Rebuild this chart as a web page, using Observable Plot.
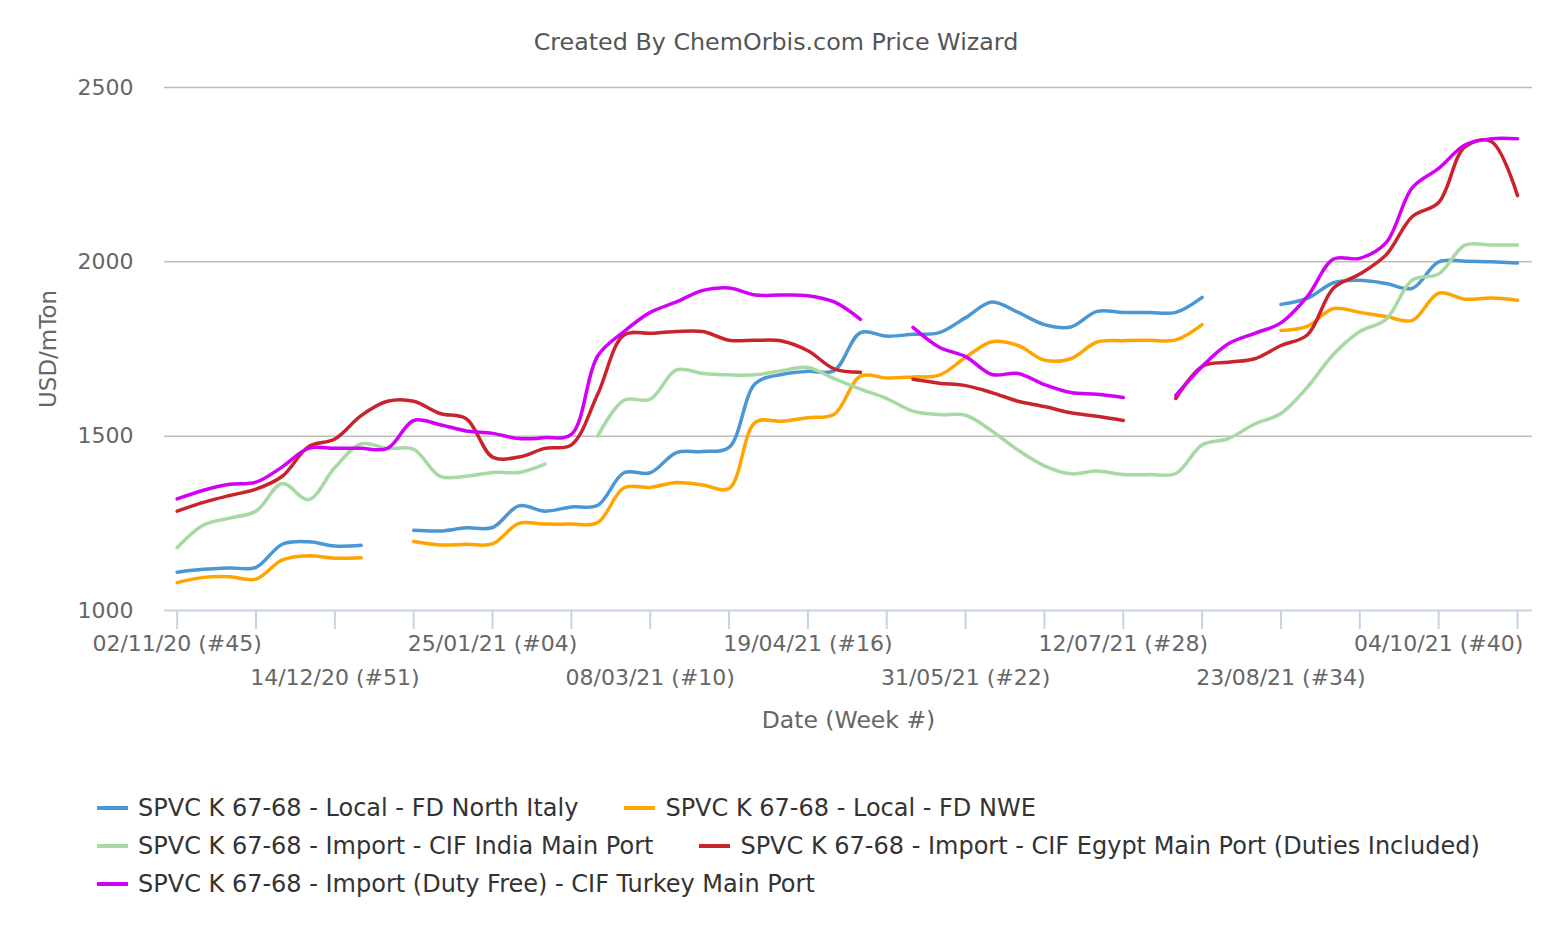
<!DOCTYPE html>
<html><head><meta charset="utf-8">
<script src="https://cdn.jsdelivr.net/npm/d3@7"></script>
<script src="https://cdn.jsdelivr.net/npm/@observablehq/plot@0.6"></script>
<style>
body{margin:0;background:#fff;font-family:"DejaVu Sans",sans-serif;}
#title{height:70px;box-sizing:border-box;padding-top:28px;line-height:28px;text-align:center;font-size:23.8px;color:#555;}
#chart svg{display:block;}
#legend{height:170px;box-sizing:border-box;padding-top:29px;padding-left:97px;}
.row{display:flex;align-items:center;height:38px;}
.item{display:flex;align-items:center;margin-right:46px;font-size:24px;color:#333;white-space:nowrap;}
.sym{width:31px;height:4px;margin-right:10px;}
</style></head><body>
<div id="title">Created By ChemOrbis.com Price Wizard</div>
<div id="chart"></div>
<div id="legend"></div>
<script>
// ---- data ----
const startWeek = "2020-11-02"; // first week (#45), weekly observations
const seriesNames = [
  "SPVC K 67-68 - Local - FD North Italy",
  "SPVC K 67-68 - Local - FD NWE",
  "SPVC K 67-68 - Import - CIF India Main Port",
  "SPVC K 67-68 - Import - CIF Egypt Main Port (Duties Included)",
  "SPVC K 67-68 - Import (Duty Free) - CIF Turkey Main Port"
];
const northItaly = [1110,1118,1122,1124,1190,1197,1185,1187,null,1230,1228,1237,1238,1300,1285,1297,1302,1395,1395,1453,1456,1468,1651,1677,1686,1688,1797,1787,1792,1797,1840,1885,1855,1820,1813,1858,1855,1855,1855,1898,null,null,1878,1895,1940,1947,1938,1924,2000,2002,2000,1997];
const nwe = [1080,1095,1097,1090,1145,1157,1150,1151,null,1198,1188,1190,1191,1250,1248,1248,1252,1352,1353,1367,1360,1350,1540,1543,1553,1563,1672,1667,1670,1675,1726,1771,1760,1718,1722,1770,1774,1775,1776,1820,null,null,1803,1815,1866,1855,1843,1832,1910,1893,1896,1890];
const india = [1180,1245,1265,1285,1364,1318,1410,1478,1465,1462,1385,1385,1396,1396,1420,null,1500,1603,1606,1690,1680,1676,1676,1688,1697,1665,1635,1608,1572,1562,1560,1515,1460,1415,1392,1400,1390,1390,1393,1475,1493,1535,1565,1640,1735,1800,1835,1948,1965,2048,2048,2048];
const egypt = [1285,1310,1330,1348,1385,1470,1492,1559,1600,1600,1565,1550,1440,1440,1465,1475,1620,1790,1795,1800,1800,1775,1775,1773,1745,1693,1683,null,1663,1652,1645,1625,1600,1585,1567,1557,1545,null,1608,1700,1712,1722,1760,1790,1925,1965,2020,2130,2170,2330,2345,2190];
const turkey = [1320,1345,1362,1368,1412,1465,1465,1465,1465,1545,1533,1515,1508,1493,1496,1505,1730,1800,1855,1885,1918,1925,1905,1905,1903,1885,1835,null,1812,1755,1728,1677,1680,1648,1625,1620,1611,null,1617,1700,1765,1795,1825,1900,2008,2010,2055,2213,2268,2335,2353,2353];
const yTicks = [1000,1500,2000,2500];
const colors = ["#4b97d3","#ffa500","#a6d9a3","#c9242b","#d200f5"];

// ---- build ----
const start = new Date(startWeek + "T00:00:00Z");
const weeks = d3.range(northItaly.length).map(i => d3.utcDay.offset(start, 7 * i));
const allSeries = [northItaly, nwe, india, egypt, turkey];
const rows = [];
allSeries.forEach((vals, s) => vals.forEach((v, i) => rows.push({date: weeks[i], value: v, series: seriesNames[s]})));

const fmt = d3.utcFormat("%d/%m/%y (#%V)");
const tickWeeks = weeks.filter((d, i) => i % 3 === 0);
const labelRow1 = weeks.filter((d, i) => i % 12 === 0);
const labelRow2 = weeks.filter((d, i) => i % 12 === 6);
const axisColor = "#c6d3e3";

const chart = Plot.plot({
  width: 1552,
  height: 690,
  marginTop: 17,
  marginBottom: 150,
  marginLeft: 164,
  marginRight: 20,
  style: {fontFamily: "DejaVu Sans", fontSize: "22px", background: "#fff"},
  x: {type: "utc", domain: [d3.utcHour.offset(weeks[0], -81), d3.utcHour.offset(weeks[weeks.length - 1], 96)]},
  y: {domain: [1000, 2500]},
  color: {domain: seriesNames, range: colors},
  marks: [
    Plot.ruleY([1500, 2000, 2500], {stroke: "#bdbdbd", strokeWidth: 1.5}),
    Plot.ruleY([1000], {stroke: axisColor, strokeWidth: 2}),
    Plot.axisX({ticks: tickWeeks, tickSize: 19, stroke: axisColor, strokeWidth: 2, tickFormat: () => "", label: null}),
    Plot.axisX({ticks: labelRow1, tickSize: 0, tickPadding: 25, tickFormat: fmt, fill: "#666", fontSize: 22, label: null}),
    Plot.axisX({ticks: labelRow2, tickSize: 0, tickPadding: 58.5, tickFormat: fmt, fill: "#666", fontSize: 22, label: null}),
    Plot.axisY({ticks: yTicks, tickSize: 0, tickPadding: 31, tickFormat: d => String(d), fill: "#666", fontSize: 22, label: null}),
    Plot.text(["Date (Week #)"], {frameAnchor: "bottom", dy: 117, fontSize: 23.5, fill: "#666"}),
    Plot.text(["USD/mTon"], {frameAnchor: "left", dx: -116, dy: 0, rotate: -90, textAnchor: "middle", fontSize: 23, fill: "#666"}),
    Plot.line(rows, {x: "date", y: "value", z: "series", stroke: "series", curve: "catmull-rom", strokeWidth: 3.5, strokeLinecap: "round", strokeLinejoin: "round"})
  ]
});
document.getElementById("chart").appendChild(chart);

// ---- legend ----
const legendRows = [[0, 1], [2, 3], [4]];
const legend = document.getElementById("legend");
legendRows.forEach(r => {
  const row = document.createElement("div");
  row.className = "row";
  r.forEach(k => {
    const item = document.createElement("div");
    item.className = "item";
    const sym = document.createElement("span");
    sym.className = "sym";
    sym.style.background = colors[k];
    const t = document.createElement("span");
    t.textContent = seriesNames[k];
    item.appendChild(sym);
    item.appendChild(t);
    row.appendChild(item);
  });
  legend.appendChild(row);
});
</script></body></html>
